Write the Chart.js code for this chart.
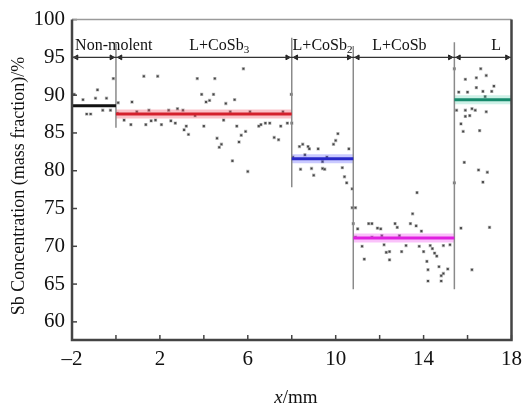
<!DOCTYPE html>
<html>
<head>
<meta charset="utf-8">
<script src="https://cdn.jsdelivr.net/npm/chart.js@4.4.1/dist/chart.umd.min.js"></script>
<style>
  body { margin: 0; background: #fff; }
  canvas { display: block; }
</style>
</head>
<body>
<canvas id="chart" width="529" height="412"></canvas>
<script>
// phases along the sample
const phaseLabels = ['Non-molent', 'L+CoSb_3', 'L+CoSb_2', 'L+CoSb', 'L'];
const phaseBounds = [-2, 0, 8, 10.8, 15.4, 18];
const phaseMeans = [88.6, 87.5, 81.6, 71.1, 89.4];
const labelX = [-0.1, 4.7, 9.4, 12.9, 17.3];
const labelY = 96.8;
const arrowY = 95;

// boundary lines (x, top, bottom)
const boundaryX = [0, 8, 10.8, 15.4];
const boundaryTop = [96.8, 97.6, 96.5, 97.0];
const boundaryBottom = [85.7, 77.8, 64.3, 64.3];

// measured points
const nonX = [-1.9, -1.5, -1.33, -1.15, -0.93, -0.84, -0.6, -0.43, -0.25, -0.12];
const nonY = [90.1, 89.4, 87.5, 87.5, 89.6, 90.7, 88.0, 89.6, 88.0, 92.2];

const cosb3X = [0.06, 0.1, 0.37, 0.68, 0.73, 0.95, 1.27, 1.36, 1.5, 1.6, 1.8, 1.9, 2.07, 2.4, 2.5, 2.7, 2.8,
  3.05, 3.1, 3.2, 3.3, 3.6, 3.7, 3.9, 4.0, 4.1, 4.26, 4.44, 4.5, 4.6, 4.7, 4.8, 4.9, 5.0, 5.2, 5.3, 5.4, 5.5,
  5.6, 5.7, 5.8, 5.9, 6.0, 6.1, 6.5, 6.6, 6.8, 7.0, 7.2, 7.4, 7.5, 7.6, 7.8, 7.98];
const cosb3Y = [87.6, 89.0, 86.7, 86.1, 89.1, 87.8, 92.5, 86.1, 88.0, 86.6, 86.7, 92.5, 86.1, 88.0, 86.6, 86.3, 88.2,
  88.0, 85.4, 85.9, 84.8, 87.3, 92.2, 90.1, 85.9, 89.1, 89.3, 90.1, 92.2, 84.3, 83.1, 83.5, 86.7, 88.9, 87.8, 81.3, 89.4, 85.9,
  83.8, 84.7, 93.5, 85.2, 79.9, 87.8, 85.9, 86.1, 86.3, 86.3, 84.4, 84.1, 85.9, 87.8, 86.3, 90.1];

const cosb2X = [8.0, 8.05, 8.35, 8.4, 8.5, 8.6, 8.74, 8.8, 8.9, 9.0, 9.2, 9.4, 9.4, 9.5, 9.6, 9.9, 10.0, 10.1,
  10.3, 10.4, 10.5, 10.6, 10.75];
const cosb2Y = [86.3, 81.8, 83.2, 80.2, 83.5, 82.1, 83.2, 82.9, 80.3, 79.4, 82.9, 80.3, 81.2, 80.2, 81.8, 83.5, 84.0, 84.9,
  80.4, 79.2, 78.4, 82.9, 77.6];

const cosbX = [10.75, 10.8, 10.9, 10.9, 11.0, 11.2, 11.3, 11.5, 11.65, 11.65, 11.9, 12.05, 12.1, 12.2, 12.3, 12.45,
  12.45, 12.7, 12.8, 12.9, 13.0, 13.2, 13.4, 13.5, 13.66, 13.7, 13.8, 13.9, 14.0, 14.15, 14.2, 14.2, 14.3, 14.4,
  14.5, 14.6, 14.7, 14.8, 14.8, 14.9, 14.9, 15.1, 15.2];
const cosbY = [75.1, 73.0, 75.1, 71.2, 72.3, 70.0, 68.3, 73.0, 73.0, 71.2, 72.4, 72.3, 71.4, 70.2, 69.2, 69.3,
  68.2, 73.0, 72.5, 71.4, 69.3, 70.1, 73.0, 74.3, 72.7, 77.1, 70.0, 72.0, 69.3, 68.0, 66.9, 65.4, 70.1, 69.7,
  69.1, 68.7, 67.3, 66.1, 65.4, 66.4, 70.1, 67.0, 70.2];

const liqX = [15.4, 15.4, 15.5, 15.6, 15.7, 15.7, 15.8, 15.85, 15.9, 15.9, 15.9, 16.0, 16.1, 16.2, 16.2, 16.35,
  16.4, 16.4, 16.5, 16.55, 16.6, 16.7, 16.7, 16.8, 16.85, 16.85, 16.9, 17.0, 17.1, 17.2];
const liqY = [93.5, 78.4, 88.0, 90.4, 86.2, 72.4, 85.2, 81.1, 92.1, 88.0, 87.2, 90.4, 87.3, 88.2, 66.9, 88.0,
  92.3, 91.0, 80.1, 85.3, 93.5, 90.5, 78.5, 89.8, 92.6, 87.8, 79.8, 72.5, 90.5, 91.2];

// styles
const meanColors = ['#111111', '#d4202c', '#2828c8', '#e020e0', '#168a6c'];
const glowColors = ['rgba(0,0,0,0)', 'rgba(240,80,100,0.35)', 'rgba(80,80,255,0.3)', 'rgba(240,80,240,0.35)', 'rgba(60,200,160,0.25)'];
const serif = '"Liberation Serif", "Times New Roman", serif';

const pts = (xs, ys) => xs.map((x, i) => ({ x: x, y: ys[i] }));

const datasets = [];
const allX = [].concat(nonX, cosb3X, cosb2X, cosbX, liqX);
const allY = [].concat(nonY, cosb3Y, cosb2Y, cosbY, liqY);
datasets.push({
  data: pts(allX, allY),
  pointRadius: 1.5,
  pointStyle: 'rect',
  backgroundColor: '#3a3a3a',
  borderColor: 'rgba(120,120,120,0.45)',
  borderWidth: 1.2,
  order: 5
});

phaseMeans.forEach((m, i) => {
  const seg = [{ x: phaseBounds[i], y: m }, { x: phaseBounds[i + 1], y: m }];
  datasets.push({ data: seg, showLine: true, borderColor: glowColors[i], borderWidth: 9, pointRadius: 0, order: 4 });
  datasets.push({ data: seg, showLine: true, borderColor: meanColors[i], borderWidth: 3, pointRadius: 0, order: 1 });
});

boundaryX.forEach((bx, i) => {
  datasets.push({
    data: [{ x: bx, y: boundaryTop[i] }, { x: bx, y: boundaryBottom[i] }],
    showLine: true, borderColor: '#8a8a8a', borderWidth: 1.5, pointRadius: 0, order: 3
  });
});

// span arrows
datasets.push({
  data: [{ x: phaseBounds[0], y: arrowY }, { x: phaseBounds[phaseBounds.length - 1], y: arrowY }],
  showLine: true, borderColor: '#333', borderWidth: 1.2, pointRadius: 0, order: 2
});
const heads = [];
const headRot = [];
for (let i = 0; i < phaseLabels.length; i++) {
  heads.push({ x: phaseBounds[i] + 0.2, y: arrowY }); headRot.push(-90);
  heads.push({ x: phaseBounds[i + 1] - 0.2, y: arrowY }); headRot.push(90);
}
datasets.push({
  data: heads, pointStyle: 'triangle', pointRotation: headRot, pointRadius: 2.8,
  backgroundColor: '#222', borderColor: '#222', borderWidth: 1, order: 2
});

const decor = {
  id: 'decor',
  afterDraw(chart) {
    const ctx = chart.ctx;
    const xs = chart.scales.x, ys = chart.scales.y;
    const a = chart.chartArea;
    ctx.save();
    // inner ticks
    ctx.strokeStyle = '#444';
    ctx.lineWidth = 1.5;
    for (let v = -2; v <= 18; v += 2) {
      const px = xs.getPixelForValue(v);
      ctx.beginPath(); ctx.moveTo(px, a.bottom); ctx.lineTo(px, a.bottom - 5); ctx.stroke();
    }
    for (let v = 60; v <= 100; v += 5) {
      const py = ys.getPixelForValue(v);
      ctx.beginPath(); ctx.moveTo(a.left, py); ctx.lineTo(a.left + 5, py); ctx.stroke();
    }
    // frame
    ctx.strokeStyle = '#9a9a9a'; ctx.lineWidth = 1.5;
    ctx.beginPath(); ctx.moveTo(a.left, a.top); ctx.lineTo(a.right, a.top); ctx.stroke();
    ctx.strokeStyle = '#444'; ctx.lineWidth = 2.5;
    ctx.beginPath();
    ctx.moveTo(a.left, a.top); ctx.lineTo(a.left, a.bottom); ctx.lineTo(a.right, a.bottom); ctx.lineTo(a.right, a.top);
    ctx.stroke();

    // phase labels with subscripts
    ctx.fillStyle = '#111';
    ctx.textBaseline = 'alphabetic';
    phaseLabels.forEach((lab, i) => {
      const parts = lab.split('_');
      ctx.font = '16px ' + serif;
      const w0 = ctx.measureText(parts[0]).width;
      let w1 = 0;
      if (parts[1]) { ctx.font = '11px ' + serif; w1 = ctx.measureText(parts[1]).width; }
      const cx = xs.getPixelForValue(labelX[i]);
      const by = ys.getPixelForValue(labelY) + 6;
      let sx = cx - (w0 + w1) / 2;
      ctx.font = '16px ' + serif; ctx.textAlign = 'left';
      ctx.fillText(parts[0], sx, by);
      if (parts[1]) { ctx.font = '11px ' + serif; ctx.fillText(parts[1], sx + w0, by + 3); }
    });

    // axis titles
    ctx.font = '18px ' + serif;
    ctx.textAlign = 'center'; ctx.textBaseline = 'middle';
    ctx.save();
    ctx.translate(19, 186);
    ctx.rotate(-Math.PI / 2);
    ctx.fillText('Sb Concentration (mass fraction)/%', 0, 0);
    ctx.restore();
    ctx.font = 'italic 19px ' + serif;
    const wx = ctx.measureText('x').width;
    ctx.font = '19px ' + serif;
    const wm = ctx.measureText('/mm').width;
    const left = 296 - (wx + wm) / 2;
    ctx.textAlign = 'left';
    ctx.font = 'italic 19px ' + serif; ctx.fillText('x', left, 398);
    ctx.font = '19px ' + serif; ctx.fillText('/mm', left + wx, 398);
    ctx.restore();
  }
};

new Chart(document.getElementById('chart'), {
  type: 'scatter',
  data: { datasets: datasets },
  options: {
    responsive: false,
    animation: false,
    layout: { padding: { top: 10, right: 10, left: 0, bottom: 0 } },
    plugins: { legend: { display: false }, tooltip: { enabled: false } },
    scales: {
      x: {
        type: 'linear', min: -2, max: 18,
        afterBuildTicks: s => { s.ticks = []; for (let v = -2; v <= 18; v += 4) s.ticks.push({ value: v }); },
        afterFit: s => { s.height = 72; },
        grid: { display: false, drawTicks: false },
        border: { display: false },
        ticks: {
          padding: 7, color: '#111', font: { family: serif, size: 21 },
          maxRotation: 0, autoSkip: false,
          callback: v => (v < 0 ? '\u2013' + Math.abs(v) : String(v))
        }
      },
      y: {
        type: 'linear', min: 57.6, max: 100,
        afterBuildTicks: s => { s.ticks = []; for (let v = 60; v <= 100; v += 5) s.ticks.push({ value: v }); },
        afterFit: s => { s.width = 72; },
        grid: { display: false, drawTicks: false },
        border: { display: false },
        ticks: { padding: 7, color: '#111', font: { family: serif, size: 21 } }
      }
    }
  },
  plugins: [decor]
});
</script>
</body>
</html>
